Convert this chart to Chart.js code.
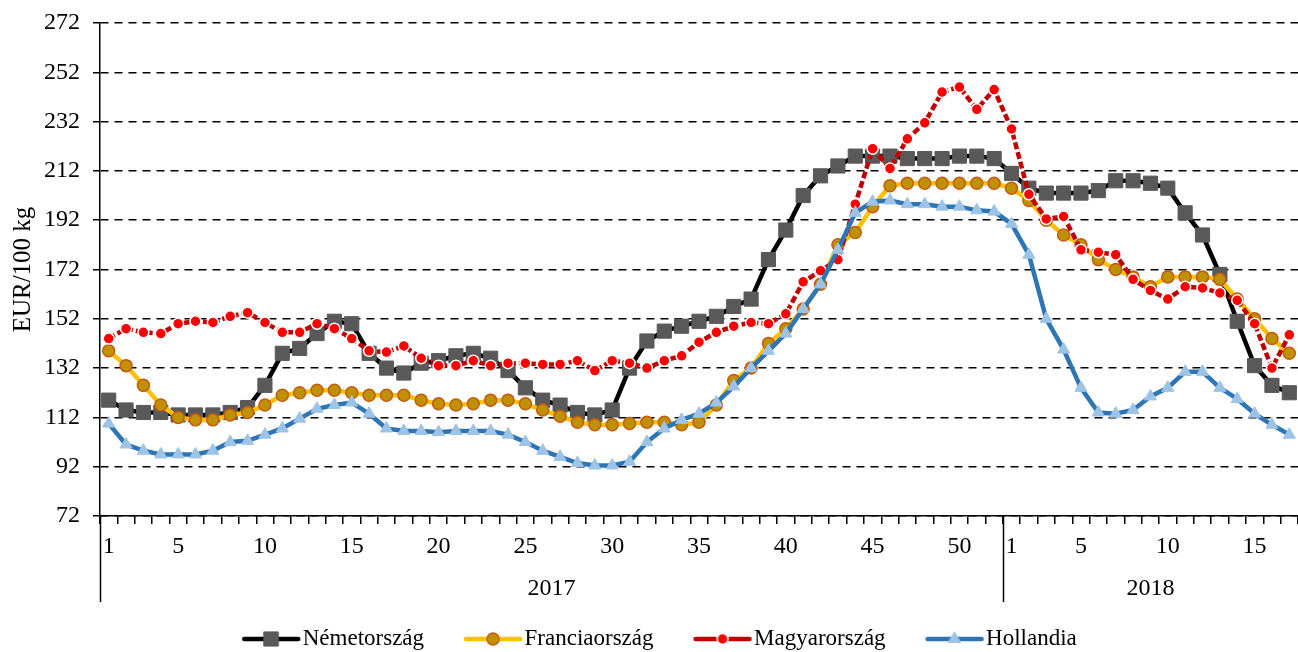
<!DOCTYPE html>
<html>
<head>
<meta charset="utf-8">
<script src="https://cdn.jsdelivr.net/npm/chart.js@4"></script>
<style>
  body { margin: 0; background: #fff; }
  #wrap { width: 1298px; height: 652px; }
</style>
</head>
<body>
<div id="wrap"><canvas id="chart"></canvas></div>
<script>
// évek és hetek
const years = ['2017', '2018'];
const weeksPerYear = [52, 17];

// EUR/100 kg
const nemetorszag = [
  119, 115, 114, 114, 113, 113, 113, 114, 116, 125, 138, 140, 146, 151, 150, 138, 132, 130, 134, 135,
  137, 138, 136, 131, 124, 119, 117, 114, 113, 115, 132, 143, 147, 149, 151, 153, 157, 160, 176, 188,
  202, 210, 214, 218, 218, 218, 217, 217, 217, 218, 218, 217,
  211, 205, 203, 203, 203, 204, 208, 208, 207, 205, 195, 186, 170, 151, 133, 125, 122
];
const franciaorszag = [
  139, 133, 125, 117, 112, 111, 111, 113, 114, 117, 121, 122, 123, 123, 122, 121, 121, 121, 119, 117.5,
  117, 117.5, 119, 119, 117.5, 115, 112.5, 110, 109, 109, 109.5, 110, 110, 109, 110, 117, 127, 132, 142, 148,
  156, 166, 182, 187, 197.5, 206, 207, 207, 207, 207, 207, 207,
  205, 200, 192, 186, 182, 176, 172, 169, 165, 169, 169, 169, 168, 160, 152, 144, 138
];
const magyarorszag = [
  144, 148, 146.5, 146, 150, 151, 150.5, 153, 154.5, 150.5, 146.5, 146.5, 150, 148, 144, 139, 138.5, 141, 136, 133,
  133, 135, 133, 134, 134, 133.5, 133.5, 135, 131, 135, 134, 132, 135, 137, 142.5, 146.5, 149, 150.5, 150, 154,
  167, 171.5, 176, 198.5, 221, 213, 225, 231.5, 244, 246, 237, 245,
  229, 202.5, 192.5, 193.5, 180, 179, 178, 168, 163.5, 160, 165, 164.5, 162.5, 159.5, 150, 132, 145.5
];
const hollandia = [
  109.5, 101, 98.5, 97, 97, 97, 98.5, 102, 102.5, 105, 107.5, 111.5, 115.5, 117, 118, 113.5, 107.5, 106.5, 106.5, 106,
  106.5, 106.5, 106.5, 105, 102, 98.5, 96, 93.5, 92.5, 92.5, 94, 102, 107.5, 111, 113.5, 118, 124.5, 132, 139, 146,
  156, 166, 180, 195, 199.5, 200, 198.5, 198.5, 197.5, 197.5, 196, 195.5,
  190.5, 178, 152, 139.5, 124, 114, 113.5, 115, 120.5, 124, 130.5, 130.5, 124, 119.5, 113.5, 109, 105
];

const yMin = 72, yMax = 272, yStep = 20;

// kategóriák: hét sorszáma, évenként újrakezdve
const weekLabels = [];
weeksPerYear.forEach(n => { for (let w = 1; w <= n; w++) weekLabels.push(w); });

const FONT = "'Liberation Serif', 'Times New Roman', serif";
Chart.defaults.font.family = FONT;
Chart.defaults.font.size = 24;
Chart.defaults.color = '#000';

const datasets = [
  {
    label: 'Németország', data: nemetorszag, order: 4,
    borderColor: '#000000', borderWidth: 4.5,
    pointStyle: 'rect', pointRadius: 10, pointBackgroundColor: '#595959',
    pointBorderColor: '#595959', pointBorderWidth: 1
  },
  {
    label: 'Franciaország', data: franciaorszag, order: 3,
    borderColor: '#FFC000', borderWidth: 4.5,
    pointStyle: 'circle', pointRadius: 6, pointBackgroundColor: '#BF9000',
    pointBorderColor: '#C55A11', pointBorderWidth: 1.5
  },
  {
    label: 'Magyarország', data: magyarorszag, order: 2,
    borderColor: '#C00000', borderWidth: 4.5, borderDash: [7, 3],
    pointStyle: 'circle', pointRadius: 5.5, pointBackgroundColor: '#FF0000',
    pointBorderColor: '#FFFFFF', pointBorderWidth: 1.5
  },
  {
    label: 'Hollandia', data: hollandia, order: 1,
    borderColor: '#2E75B6', borderWidth: 4.5,
    pointStyle: 'triangle', pointRadius: 7, pointBackgroundColor: '#9DC3E6',
    pointBorderColor: '#9DC3E6', pointBorderWidth: 1
  }
];

// jelmagyarázat ikon: vonal + jelölő
const BOX_W = 66, ICON_W = 92, ICON_H = 24;
function makeIcon(ds) {
  const c = document.createElement('canvas');
  c.width = ICON_W; c.height = ICON_H;
  const g = c.getContext('2d');
  g.strokeStyle = ds.borderColor;
  g.lineWidth = 4.5;
  g.lineCap = 'round';
  g.beginPath(); g.moveTo(32, ICON_H / 2); g.lineTo(86, ICON_H / 2); g.stroke();
  g.fillStyle = ds.pointBackgroundColor;
  g.strokeStyle = ds.pointBorderColor;
  g.lineWidth = ds.pointBorderWidth;
  Chart.helpers.drawPoint(g, {
    pointStyle: ds.pointStyle, radius: ds.pointRadius,
    borderWidth: ds.pointBorderWidth, rotation: 0
  }, 59, ICON_H / 2);
  return c;
}
const icons = datasets.map(makeIcon);

// évek a tengely alatt, elválasztó vonalakkal
const yearAxisPlugin = {
  id: 'yearAxis',
  afterDraw(chart) {
    const xs = chart.scales.x, ca = chart.chartArea, ctx = chart.ctx;
    ctx.save();
    ctx.strokeStyle = '#000';
    ctx.lineWidth = 1.5;
    ctx.fillStyle = '#000';
    ctx.font = '24px ' + FONT;
    ctx.textAlign = 'center';
    ctx.textBaseline = 'middle';
    let start = 0;
    years.forEach((y, k) => {
      const end = start + weeksPerYear[k] - 1;
      const left = start === 0 ? ca.left
        : (xs.getPixelForValue(start - 1) + xs.getPixelForValue(start)) / 2;
      ctx.beginPath();
      ctx.moveTo(Math.round(left) + 0.5, ca.bottom);
      ctx.lineTo(Math.round(left) + 0.5, ca.bottom + 86);
      ctx.stroke();
      const mid = (xs.getPixelForValue(start) + xs.getPixelForValue(end)) / 2;
      ctx.fillText(y, mid, ca.bottom + 73);
      start = end + 1;
    });
    ctx.restore();
  }
};

new Chart(document.getElementById('chart'), {
  type: 'line',
  data: { labels: weekLabels.map(String), datasets: datasets },
  plugins: [yearAxisPlugin],
  options: {
    responsive: true,
    maintainAspectRatio: false,
    animation: false,
    events: [],
    layout: { autoPadding: false, padding: { top: 23, right: -4, left: 0, bottom: -8.5 } },
    elements: { line: { tension: 0 } },
    plugins: {
      tooltip: { enabled: false },
      legend: {
        position: 'bottom',
        labels: {
          usePointStyle: true,
          pointStyleWidth: BOX_W,
          padding: 23,
          font: { size: 23 },
          color: '#000',
          generateLabels: (chart) => chart.data.datasets.map((ds, i) => ({
            text: ds.label,
            pointStyle: icons[i],
            datasetIndex: i,
            hidden: false,
            fontColor: '#000',
            lineWidth: 0,
            strokeStyle: 'rgba(0,0,0,0)',
            fillStyle: 'rgba(0,0,0,0)'
          }))
        }
      }
    },
    scales: {
      x: {
        offset: true,
        afterFit: (s) => { s.height = 88.5; s.paddingLeft = 0; s.paddingRight = 0; },
        grid: {
          offset: true, drawOnChartArea: false, drawTicks: true,
          tickLength: 8, color: '#000', lineWidth: 1.5
        },
        border: { display: true, color: '#000', width: 1.5 },
        ticks: {
          autoSkip: false, maxRotation: 0, padding: 8,
          font: { size: 24 },
          callback: (v, i) => {
            const w = weekLabels[i];
            return (w === 1 || w % 5 === 0) ? String(w) : '';
          }
        }
      },
      y: {
        min: yMin, max: yMax,
        afterFit: (s) => { s.width = 100; s.paddingTop = 0; s.paddingBottom = 0; },
        ticks: { stepSize: yStep, padding: 13, font: { size: 24 } },
        grid: {
          color: '#000', lineWidth: 1.5, tickLength: 7,
          tickBorderDash: [], tickColor: '#000'
        },
        border: { display: true, color: '#000', width: 1.5, dash: [8, 6] },
        title: {
          display: true, text: 'EUR/100 kg',
          font: { size: 25 }, padding: { top: 8, bottom: 0 }
        }
      }
    }
  }
});
</script>
</body>
</html>
